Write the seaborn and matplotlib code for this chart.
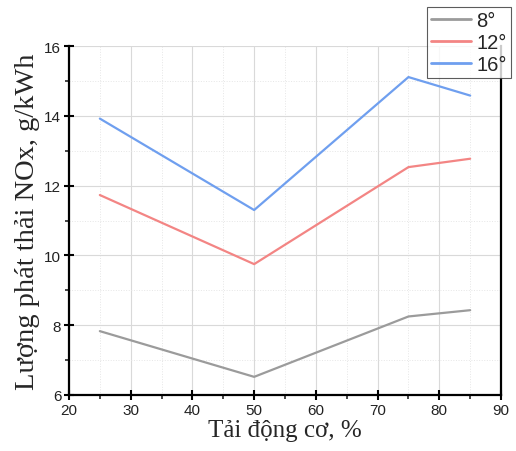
import matplotlib
matplotlib.use("Agg")
import matplotlib.pyplot as plt
import seaborn as sns
import pandas as pd
from matplotlib.ticker import MultipleLocator
from matplotlib.lines import Line2D

loads = [25, 50, 75, 85]
nox_8 = [7.83, 6.52, 8.25, 8.43]
nox_12 = [11.73, 9.75, 12.53, 12.77]
nox_16 = [13.92, 11.30, 15.11, 14.58]
series_names = ["8°", "12°", "16°"]
colors = ["#9b9b9b", "#f38584", "#6f9fef"]

rows = []
for name, vals in zip(series_names, [nox_8, nox_12, nox_16]):
    for x, y in zip(loads, vals):
        rows.append({"load": x, "nox": y, "angle": name})
df = pd.DataFrame(rows)

sns.set_style("white")
fig = plt.figure(figsize=(5.16, 4.52), dpi=100)
ax = fig.add_axes([0.1337, 0.1239, 0.8373, 0.7721])

sns.lineplot(data=df, x="load", y="nox", hue="angle", hue_order=series_names,
             palette=colors, linewidth=1.6, ax=ax, legend=False, sort=False)

ax.set_xlim(20, 90)
ax.set_ylim(6, 16)
ax.xaxis.set_major_locator(MultipleLocator(10))
ax.xaxis.set_minor_locator(MultipleLocator(5))
ax.yaxis.set_major_locator(MultipleLocator(2))
ax.yaxis.set_minor_locator(MultipleLocator(1))
ax.grid(which="major", color="#d9d9d9", linewidth=0.8, linestyle="-")
ax.grid(which="minor", color="#e6e6e6", linewidth=0.7, linestyle=":")
ax.set_axisbelow(True)

for s in ["left", "bottom", "right"]:
    ax.spines[s].set_visible(True)
    ax.spines[s].set_color("black")
    ax.spines[s].set_linewidth(1.6)
ax.spines["top"].set_visible(False)

ax.tick_params(axis="both", which="major", direction="inout", length=7, width=1.5,
               labelsize=11, bottom=True, left=True, colors="black", labelcolor="#222222", pad=2)
ax.tick_params(axis="both", which="minor", direction="out", length=3, width=1.2,
               bottom=True, left=True)
for lab in ax.get_xticklabels() + ax.get_yticklabels():
    lab.set_family("Liberation Sans")

ax.set_xlabel("Tải động cơ, %", family="Liberation Serif", fontsize=18, labelpad=2)
ax.set_ylabel("Lượng phát thải NOx, g/kWh", family="Liberation Serif", fontsize=20.5, labelpad=3)

handles = [Line2D([], [], color=c, linewidth=2.0) for c in colors]
leg = fig.legend(handles, series_names, loc="upper left", bbox_to_anchor=(0.8275, 0.982),
                 frameon=True, fancybox=False, edgecolor="#333333",
                 prop={"family": "Liberation Sans", "size": 14.5},
                 handlelength=2.0, handletextpad=0.25, labelspacing=0.15,
                 borderpad=0.2, borderaxespad=0.0)
leg.get_frame().set_linewidth(0.8)

fig.savefig("out.png", dpi=100)
